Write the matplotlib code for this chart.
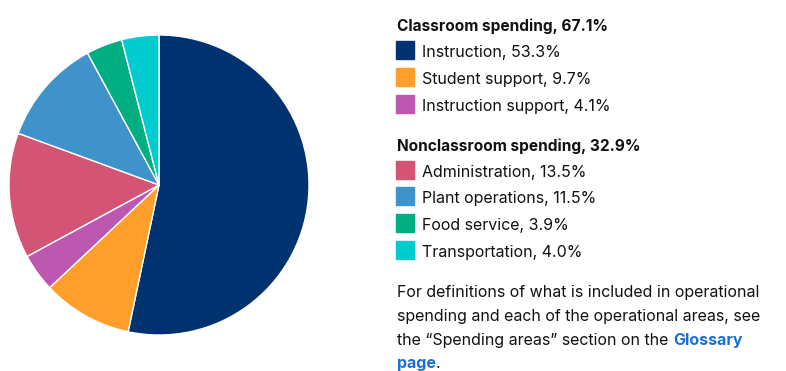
import matplotlib
matplotlib.use("Agg")
import matplotlib.pyplot as plt

categories = ["Instruction", "Student support", "Instruction support",
              "Administration", "Plant operations", "Food service", "Transportation"]
values = [53.3, 9.7, 4.1, 13.5, 11.5, 3.9, 4.0]
colors = ["#00326F", "#FF9E2B", "#BC58B0", "#D45476", "#3F92CA", "#00AE82", "#00CCCF"]
groups = ["Classroom spending, 67.1%", "Nonclassroom spending, 32.9%"]
group_members = [[0, 1, 2], [3, 4, 5, 6]]
note_lines = ["For definitions of what is included in operational",
              "spending and each of the operational areas, see",
              "the \u201cSpending areas\u201d section on the "]
link_text = ["Glossary", "page"]

plt.rcParams['font.family'] = ['Inter', 'DejaVu Sans']
W, H = 786, 371
fig = plt.figure(figsize=(W / 100, H / 100), dpi=100)

def fx(x):
    return x / W

def fy(y):
    return (H - y) / H

# pie
cx, cy, r = 159, 185, 150
ax = fig.add_axes([fx(cx - r), fy(cy + r), 2 * r / W, 2 * r / H])
ax.pie(values, colors=colors, startangle=90, counterclock=False,
       wedgeprops=dict(edgecolor="white", linewidth=1.0), radius=1.0)
ax.set_xlim(-1, 1)
ax.set_ylim(-1, 1)
ax.set_aspect("equal")
ax.axis("off")

fs = 11.5
hfs = 11.1
txt_color = "#111111"
header_baselines = [31, 151]
row_baselines = [[57, 84, 111], [177, 203, 230, 257]]
for g, members in enumerate(group_members):
    fig.text(fx(397), fy(header_baselines[g]), groups[g], fontsize=hfs,
             fontweight="bold", color=txt_color, va="baseline", ha="left")
    for k, idx in enumerate(members):
        yb = row_baselines[g][k]
        fig.patches.append(plt.Rectangle((fx(396), fy(yb + 2)), 18 / W, 18 / H,
                                         transform=fig.transFigure, color=colors[idx]))
        fig.text(fx(422), fy(yb), f"{categories[idx]}, {values[idx]:.1f}%",
                 fontsize=fs, color=txt_color, va="baseline", ha="left")

note_baselines = [297, 321, 345, 368]
link_color = "#1A6FD6"
for i, line in enumerate(note_lines):
    t = fig.text(fx(397), fy(note_baselines[i]), line, fontsize=fs,
                 color=txt_color, va="baseline", ha="left")
last = t
fig.canvas.draw()
ext = last.get_window_extent()
fig.text(ext.x1 / W, fy(note_baselines[2]), link_text[0], fontsize=fs,
         fontweight="bold", color=link_color, va="baseline", ha="left")
p = fig.text(fx(397), fy(note_baselines[3]), link_text[1], fontsize=fs,
             fontweight="bold", color=link_color, va="baseline", ha="left")
fig.canvas.draw()
ext2 = p.get_window_extent()
fig.text(ext2.x1 / W, fy(note_baselines[3]), ".", fontsize=fs,
         color=txt_color, va="baseline", ha="left")

fig.savefig("out.png", dpi=100)
